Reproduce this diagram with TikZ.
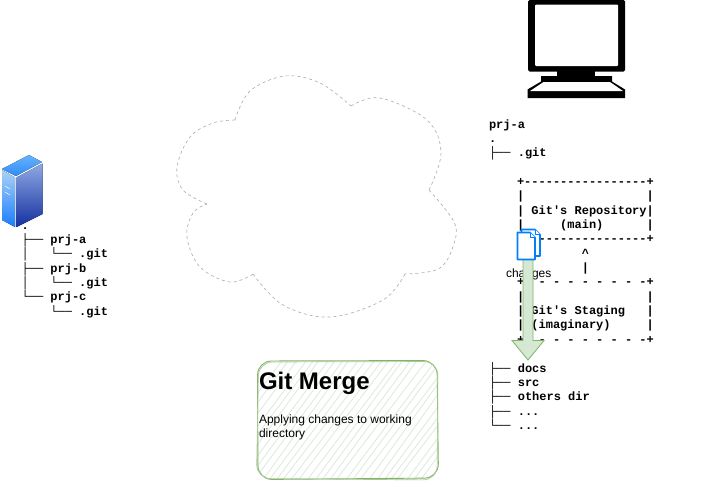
\documentclass[tikz,border=0pt]{standalone}
\usepackage{fontspec}
\setmainfont{Liberation Sans}
\newfontfamily\treefont{Liberation Mono}[BoldFont={Liberation Mono Bold}]
\usetikzlibrary{arrows.meta,shadings}
\definecolor{sketchgreen}{HTML}{82B366}
\definecolor{hatchgreen}{HTML}{D5E8D4}
\definecolor{docblue}{HTML}{007FFF}
\definecolor{cloudgray}{HTML}{ABABAB}
\definecolor{srvtopa}{HTML}{66B2FF}
\definecolor{srvtopb}{HTML}{2F8CF5}
\definecolor{srvlefta}{HTML}{A9D2F7}
\definecolor{srvleftb}{HTML}{1A7CFF}
\definecolor{srvrighta}{HTML}{8EA9E3}
\definecolor{srvrightb}{HTML}{14309F}
\tikzset{
  asciitext/.style={inner sep=0pt,outer sep=0pt,anchor=north west,align=left,
    font=\fontsize{12}{14.35}\selectfont\treefont\bfseries},
  sanslabel/.style={inner sep=0pt,outer sep=0pt,anchor=north west,align=left,
    font=\fontsize{12}{14}\selectfont},
  cloudline/.style={draw=cloudgray,line width=0.6pt,dash pattern=on 3pt off 3pt},
  docpage/.style={draw=docblue,fill=white,line width=1.6pt,line join=round},
}
\begin{document}
\begin{tikzpicture}[x=1pt,y=-1pt]
\useasboundingbox (0,0) rectangle (727,483);
\fill[white] (0,0) rectangle (727,483);

% monitor
\fill[black,rounded corners=1.5pt] (528,0) rectangle (625,71.5);
\fill[white,rounded corners=1pt] (535,4.5) rectangle (618,66);
\fill[black] (557,71) rectangle (595,77);
\fill[black] (541,76) -- (612,76) -- (612,81.5) -- (625,89.5) -- (625,98) -- (527.5,98) -- (527.5,89.5) -- (541,81.5) -- cycle;
\fill[white] (543.5,82) -- (610,82) -- (623,91) -- (530,91) -- cycle;

% server
\fill[top color=srvtopa,bottom color=srvtopb] (2,169) -- (29,155) -- (42,162) -- (16,176) -- cycle;
\fill[top color=srvlefta,bottom color=srvleftb] (2,170) -- (15,177.5) -- (15,227) -- (2,220) -- cycle;
\fill[top color=srvrighta,bottom color=srvrightb] (16.5,177.5) -- (42.5,163.5) -- (42.5,214) -- (16.5,227) -- cycle;
\draw[white,line width=0.5pt] (5,186) -- (10,189) (5,192) -- (10,195);

% cloud
\draw[cloudline] plot[smooth,tension=0.6] coordinates {(235,120) (250,91) (285,76) (320,83) (351,106)};
\draw[cloudline] plot[smooth,tension=0.6] coordinates {(351,106) (380,98) (427,120) (441,153) (429,190)};
\draw[cloudline] plot[smooth,tension=0.6] coordinates {(429,190) (453,220) (455,240) (440,268) (405,274)};
\draw[cloudline] plot[smooth,tension=0.6] coordinates {(405,274) (383,300) (330,317) (283,305) (253,274)};
\draw[cloudline] plot[smooth,tension=0.6] coordinates {(253,274) (230,282) (200,267) (187,237) (193,213) (207,204)};
\draw[cloudline] plot[smooth,tension=0.6] coordinates {(207,204) (183,190) (177,167) (190,137) (213,123) (235,120)};

% left tree
\node[asciitext] (remotetree) at (21.6,227.3) {.\\
├──~prj-a\\
│~~~└──~.git\\
├──~prj-b\\
│~~~└──~.git\\
└──~prj-c\\
~~~~└──~.git};

% right trees
\node[asciitext] (localhead) at (489,119.3) {prj-a\\
.\\
├──~.git};
\node[asciitext] (gitbox) at (517,178.3) {+-----------------+\\
|~~~~~~~~~~~~~~~~~|\\
|~Git's~Repository|\\
|~~~~~(main)~~~~~~|\\
+-----------------+\\
~~~~~~~~~\textasciicircum\\
~~~~~~~~~|\\
+-~-~-~-~-~-~-~-~-+\\
|~~~~~~~~~~~~~~~~~|\\
|~Git's~Staging~~~|\\
|~(imaginary)~~~~~|\\
+-~-~-~-~-~-~-~-~-+};
\node[asciitext] (worktree) at (489,362) {├──~docs\\
├──~src\\
├──~others~dir\\
├──~...\\
└──~...};

% changes label, document icon and arrow
\node[sanslabel] (changeslabel) at (506,268.5) {changes};
\path[draw=sketchgreen,fill=hatchgreen,line width=0.8pt,line join=miter]
  (523,259) -- (533,259) -- (533,340.5) -- (544,340.5) -- (528,360) -- (512,340.5) -- (523,340.5) -- cycle;
\draw[docpage] (521.5,229.5) -- (535,229.5) -- (540,234.5) -- (540,256) -- (521.5,256) -- cycle;
\draw[docpage,line width=1pt] (535,229.5) -- (535,234.5) -- (540,234.5);
\draw[docpage] (517.5,232.5) -- (530,232.5) -- (535,237.5) -- (535,259.5) -- (517.5,259.5) -- cycle;
\draw[docpage,line width=1pt] (530,232.5) -- (530,237.5) -- (535,237.5);

% Git Merge card
\pgfmathsetseed{7}
\begin{scope}
  \clip[rounded corners=14pt] (257,361) rectangle (438,480);
  \foreach \k in {0,...,42} {
    \pgfmathsetmacro{\ja}{2.2*rand}
    \pgfmathsetmacro{\jb}{2.2*rand}
    \draw[hatchgreen!85,line width=0.8pt] ({190+7.6*\k+\ja},484) -- ({190+7.6*\k+95+\jb},356);
  }
\end{scope}
\draw[sketchgreen,line width=0.9pt,rounded corners=14pt] (257.5,361) -- (437,360.5) -- (438.5,478) -- (258,479.5) -- cycle;
\draw[sketchgreen!70,line width=0.7pt,rounded corners=14pt] (258.5,362) -- (438,361.5) -- (437,480) -- (256.5,478.5) -- cycle;
\node[sanslabel,font=\fontsize{24}{28}\selectfont\bfseries] (mergetitle) at (259,372) {Git Merge};
\node[sanslabel] (mergebody) at (259,414.5) {Applying changes to working\\directory};
\end{tikzpicture}
\end{document}
